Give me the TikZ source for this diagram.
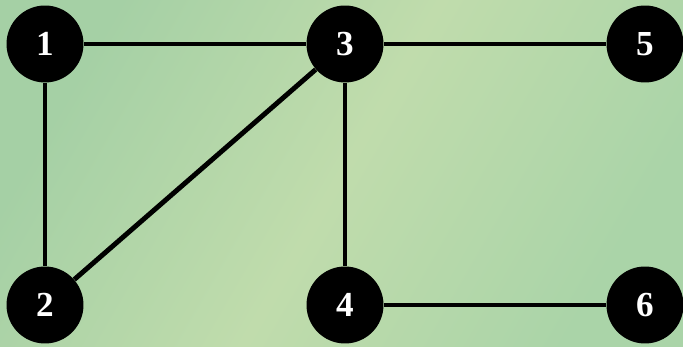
\documentclass[tikz,border=0pt]{standalone}
\usepackage{fontspec}
\setmainfont{Liberation Serif}
\usepackage{tikz}
\usetikzlibrary{positioning}
\usepackage{xcolor}
\definecolor{bgleft}{RGB}{165,208,165}
\definecolor{bgmid}{RGB}{192,220,172}
\definecolor{bgright}{RGB}{170,212,168}

\begin{document}
\begin{tikzpicture}[x=0.02cm, y=-0.02cm, every node/.style={circle, fill=black, text=white, minimum size=1.54cm, inner sep=0pt, font=\fontsize{20}{21}\selectfont\bfseries}]
  \shade[left color=bgleft, right color=bgright, middle color=bgmid, shading angle=60] (0,0) rectangle (683,347);
  \useasboundingbox (0,0) rectangle (683,347);

  \node (1) at (45,44) {1};
  \node (2) at (45,305) {2};
  \node (3) at (345,44) {3};
  \node (4) at (345,305) {4};
  \node (5) at (645,44) {5};
  \node (6) at (645,305) {6};

  \begin{scope}[line width=2.8pt]
  \draw (1) -- (3);
  \draw (1) -- (2);
  \draw (2) -- (3);
  \draw (3) -- (5);
  \draw (3) -- (4);
  \draw (4) -- (6);
  \end{scope}
\end{tikzpicture}
\end{document}
